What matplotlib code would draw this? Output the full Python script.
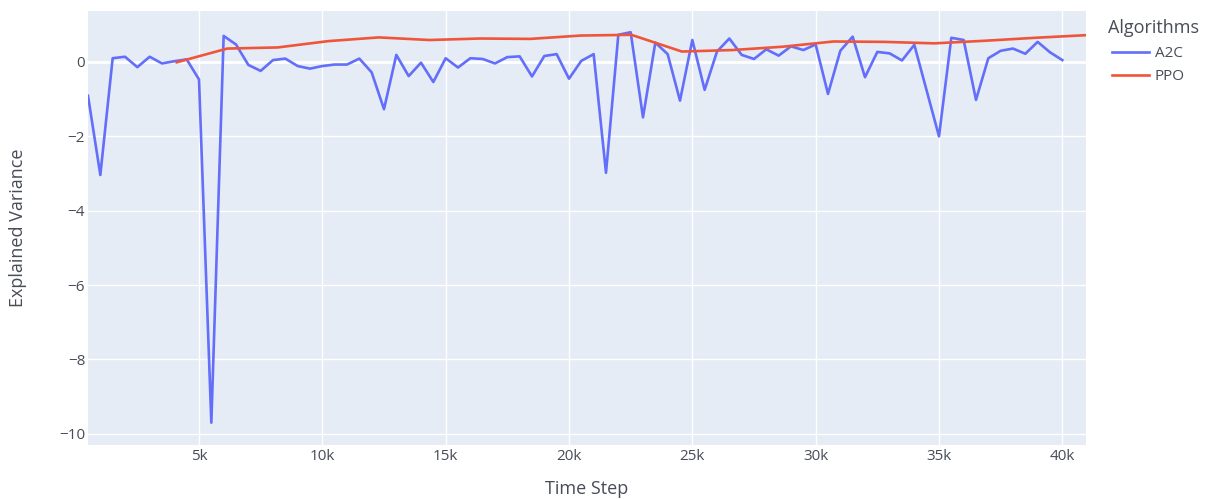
import matplotlib
matplotlib.use("Agg")
import matplotlib.pyplot as plt
from matplotlib.ticker import FixedLocator, FixedFormatter

# ---- data ----
a2c_steps = [500 * i for i in range(1, 81)]
a2c_values = [
    -0.91, -3.04, 0.10, 0.14, -0.14, 0.14, -0.04, 0.02, 0.07, -0.47,
    -9.70, 0.70, 0.47, -0.08, -0.24, 0.05, 0.09, -0.11, -0.18, -0.11,
    -0.07, -0.07, 0.09, -0.28, -1.27, 0.19, -0.38, -0.02, -0.54, 0.10,
    -0.15, 0.10, 0.08, -0.04, 0.13, 0.15, -0.39, 0.16, 0.21, -0.45,
    0.03, 0.21, -2.98, 0.73, 0.80, -1.49, 0.52, 0.21, -1.04, 0.59,
    -0.75, 0.28, 0.63, 0.19, 0.08, 0.34, 0.17, 0.42, 0.32, 0.47,
    -0.86, 0.30, 0.68, -0.41, 0.27, 0.23, 0.04, 0.46, -0.77, -2.00,
    0.65, 0.59, -1.02, 0.10, 0.30, 0.36, 0.22, 0.54, 0.26, 0.05,
]
ppo_steps = [2048 * i for i in range(2, 21)]
ppo_values = [
    -0.01, 0.36, 0.39, 0.56, 0.66, 0.59, 0.63, 0.62, 0.71, 0.73,
    0.28, 0.32, 0.41, 0.55, 0.54, 0.50, 0.57, 0.65, 0.72,
]
series_names = ["A2C", "PPO"]
x_ticks = [5000, 10000, 15000, 20000, 25000, 30000, 35000, 40000]
x_tick_labels = ["5k", "10k", "15k", "20k", "25k", "30k", "35k", "40k"]
y_ticks = [0, -2, -4, -6, -8, -10]
y_tick_labels = ["0", "\u22122", "\u22124", "\u22126", "\u22128", "\u221210"]

# ---- style ----
W, H = 1214, 499
fig = plt.figure(figsize=(W / 100, H / 100), dpi=100)
plt.rcParams["font.family"] = ["Open Sans", "DejaVu Sans"]
txt = "#474c57"
left, right, top, bottom = 88, 1086, 11, 445
ax = fig.add_axes([left / W, 1 - bottom / H, (right - left) / W, (bottom - top) / H])
ax.set_facecolor("#E5ECF6")
for s in ax.spines.values():
    s.set_visible(False)

ax.plot(a2c_steps, a2c_values, color="#636efa", lw=1.9, label=series_names[0], zorder=3)
ax.plot(ppo_steps, ppo_values, color="#EF553B", lw=1.9, label=series_names[1], zorder=4)

ax.set_xlim(500, 40960)
ax.set_ylim(-10.30, 1.37)

ax.xaxis.set_major_locator(FixedLocator(x_ticks))
ax.xaxis.set_major_formatter(FixedFormatter(x_tick_labels))
ax.yaxis.set_major_locator(FixedLocator(y_ticks))
ax.yaxis.set_major_formatter(FixedFormatter(y_tick_labels))
ax.tick_params(axis="both", length=0, labelsize=11, colors=txt)
ax.tick_params(axis="x", pad=3)
ax.tick_params(axis="y", pad=2)
ax.grid(True, color="white", lw=1.0, zorder=0)
ax.set_axisbelow(True)
ax.axhline(0, color="white", lw=2.0, zorder=1)

fig.text((left + right) / 2 / W, 1 - 489 / H, "Time Step", ha="center", va="center",
         fontsize=13, color=txt)
fig.text(18 / W, 1 - ((top + bottom) / 2) / H, "Explained Variance", ha="center", va="center",
         rotation=90, fontsize=13, color=txt)

fig.text(1108 / W, 1 - 28 / H, "Algorithms", ha="left", va="center",
         fontsize=13, color=txt)
leg = fig.legend(loc="upper left", bbox_to_anchor=(1112 / W, 1 - 46 / H), frameon=False,
                 fontsize=11, handlelength=2.4, handletextpad=0.4, labelspacing=0.55,
                 borderaxespad=0, borderpad=0)
for t in leg.get_texts():
    t.set_color(txt)

fig.savefig("out.png", dpi=100)
